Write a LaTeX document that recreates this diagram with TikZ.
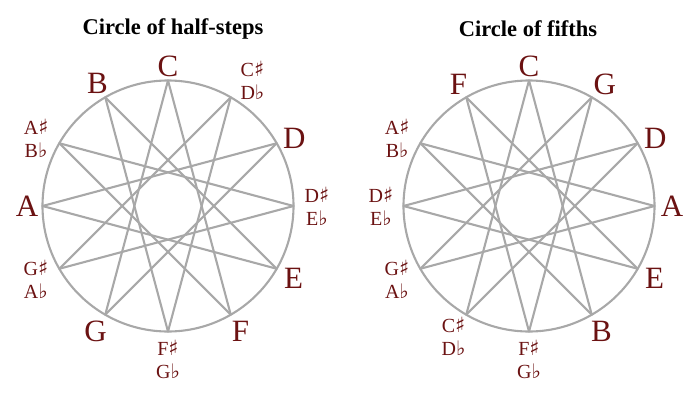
\documentclass[tikz,border=0pt]{standalone}
\usepackage{fontspec}
\setmainfont{Liberation Serif}
\newfontfamily\symf{DejaVu Sans}
\definecolor{note}{HTML}{6B1212}
\definecolor{ringc}{HTML}{A8A8A8}
\tikzset{
  ringline/.style={draw=ringc, line width=2.1pt, line cap=round, line join=round},
  ringnode/.style={circle, draw=ringc, line width=2.1pt, minimum size=251pt, inner sep=0pt},
  one/.style={text=note, font=\fontsize{31}{31}\selectfont, inner sep=0pt},
  two/.style={text=note, font=\fontsize{20}{23}\selectfont, align=center, inner sep=0pt},
  ttl/.style={font=\fontsize{22.5}{22.5}\selectfont\bfseries, inner sep=0pt}
}
\newcommand{\shp}{{\symf\fontsize{21}{21}\selectfont ♯}}
\newcommand{\flt}{{\symf\fontsize{20}{20}\selectfont ♭}}
\begin{document}
\begin{tikzpicture}[x=1pt,y=1pt]
\useasboundingbox (0,0) rectangle (700,400);
% titles
\node[ttl] (t1) at (173,371) {Circle of half-steps};
\node[ttl] (t2) at (528,371) {Circle of fifths};
% circles
\node[ringnode] (c1) at (168,194) {};
\node[ringnode] (c2) at (529,194) {};
% vertices
\foreach \i [evaluate=\i as \a using 90-30*\i] in {0,...,11}{
  \coordinate (L\i) at ([shift={(168,194)}] \a:125.5);
  \coordinate (R\i) at ([shift={(529,194)}] \a:125.5);
}
% stars {12/5}
\foreach \i [evaluate=\i as \j using {int(mod(\i+5,12))}] in {0,...,11}{
  \draw[ringline] (L\i) -- (L\j);
  \draw[ringline] (R\i) -- (R\j);
}
% left labels
\node[one] (l0) at ([shift={(168,194)}] 90:140) {C};
\node[two] (l1) at ([shift={(168,194)}] 56:151) {C\shp\\D\flt};
\node[one] (l2) at ([shift={(168,194)}] 28:143) {D};
\node[two] (l3) at ([shift={(168,194)}] 0:149) {D\shp\\E\flt};
\node[one] (l4) at ([shift={(168,194)}] -30:145) {E};
\node[one] (l5) at ([shift={(168,194)}] -60:145) {F};
\node[two] (l6) at ([shift={(168,194)}] -90:153) {F\shp\\G\flt};
\node[one] (l7) at ([shift={(168,194)}] -120:145) {G};
\node[two] (l8) at ([shift={(168,194)}] -151:151) {G\shp\\A\flt};
\node[one] (l9) at ([shift={(168,194)}] 180:141) {A};
\node[two] (l10) at ([shift={(168,194)}] 153:148) {A\shp\\B\flt};
\node[one] (l11) at ([shift={(168,194)}] 120:141) {B};
% right labels
\node[one] (r0) at ([shift={(529,194)}] 90:140) {C};
\node[one] (r1) at ([shift={(529,194)}] 58:143) {G};
\node[one] (r2) at ([shift={(529,194)}] 28:143) {D};
\node[one] (r3) at ([shift={(529,194)}] 0:143) {A};
\node[one] (r4) at ([shift={(529,194)}] -30:145) {E};
\node[one] (r5) at ([shift={(529,194)}] -60:145) {B};
\node[two] (r6) at ([shift={(529,194)}] -90:153) {F\shp\\G\flt};
\node[two] (r7) at ([shift={(529,194)}] -120:151) {C\shp\\D\flt};
\node[two] (r8) at ([shift={(529,194)}] -151:151) {G\shp\\A\flt};
\node[two] (r9) at ([shift={(529,194)}] 180:148) {D\shp\\E\flt};
\node[two] (r10) at ([shift={(529,194)}] 153:148) {A\shp\\B\flt};
\node[one] (r11) at ([shift={(529,194)}] 120:141) {F};
\end{tikzpicture}
\end{document}
